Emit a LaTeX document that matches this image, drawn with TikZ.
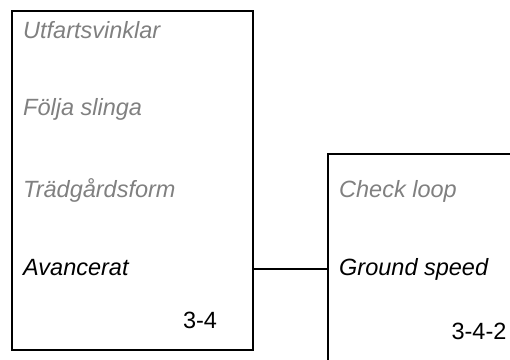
\documentclass[tikz,border=0pt]{standalone}
\usepackage{fontspec}
\setmainfont{Liberation Sans}
\usepackage{tikz}
\usetikzlibrary{positioning,calc}
\definecolor{dimtext}{HTML}{808080}

\begin{document}
\begin{tikzpicture}[
  x=1pt, y=-1pt,
  menubox/.style={draw, line width=2.3pt, minimum width=241pt, minimum height=339pt, inner sep=0pt},
  item/.style={anchor=base west, inner sep=0pt, font=\fontsize{23.5}{28}\selectfont\itshape},
  off/.style={item, text=dimtext},
  pagenum/.style={anchor=base, inner sep=0pt, font=\fontsize{23.5}{28}\selectfont},
  link/.style={line width=1.3pt}
]
\useasboundingbox (0,0) rectangle (510,359);
\node[menubox] (menu34) at (132.5,180.5) {};
\node[menubox, minimum width=260pt, minimum height=260pt, anchor=north west] (menu342) at (327,153) {};
\node[off] (utf) at (23,38) {Utfartsvinklar};
\node[off] (slinga) at (23,115) {Följa slinga};
\node[off] (tradg) at (23,197) {Trädgårdsform};
\node[item] (avanc) at (23,275) {Avancerat};
\node[pagenum] (p34) at (200,328) {3-4};
\node[off] (check) at (339,197) {Check loop};
\node[item] (ground) at (339,275) {Ground speed};
\node[pagenum] (p342) at (479,339) {3-4-2};
\draw[link] (menu34.east |- ground.west) -- (menu342.west |- ground.west);
\end{tikzpicture}
\end{document}
